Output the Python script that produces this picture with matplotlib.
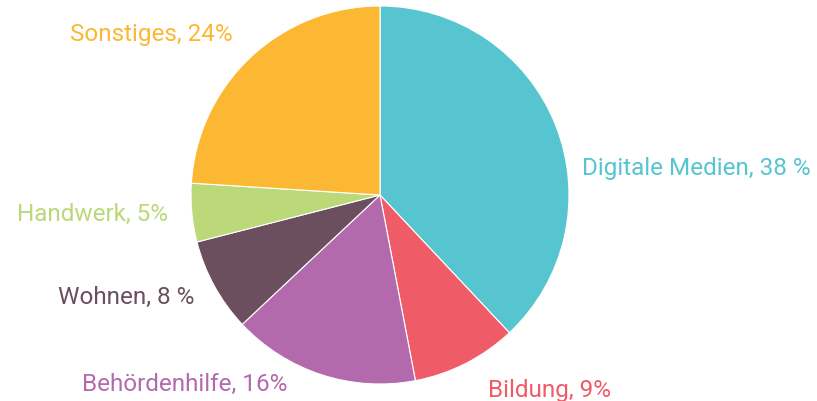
import matplotlib
matplotlib.use("Agg")
import matplotlib.pyplot as plt

# Share of topics
categories = ["Digitale Medien", "Bildung", "Behördenhilfe", "Wohnen", "Handwerk", "Sonstiges"]
shares = [38, 9, 16, 8, 5, 24]
label_texts = ["Digitale Medien, 38 %", "Bildung, 9%", "Behördenhilfe, 16%",
               "Wohnen, 8 %", "Handwerk, 5%", "Sonstiges, 24%"]
colors = ["#56C5D0", "#F05B68", "#B26AAD", "#6B4F5E", "#BBD979", "#FDB833"]

# label anchors in units of pie radius, with horizontal alignment
label_xy = [(1.07, 0.145), (0.57, -1.03), (-0.49, -0.995), (-0.98, -0.535), (-1.12, -0.1), (-0.78, 0.855)]
label_ha = ["left", "left", "right", "right", "right", "right"]

plt.rcParams["font.family"] = ["Roboto", "DejaVu Sans"]

W, H = 817, 402
cx, cy, r = 380, 196, 189
fig = plt.figure(figsize=(W / 100, H / 100), dpi=100)
ax = fig.add_axes([(cx - r) / W, (H - cy - r) / H, 2 * r / W, 2 * r / H])

ax.pie(shares, colors=colors, startangle=90, counterclock=False, radius=1,
       wedgeprops=dict(linewidth=0.8, edgecolor="white"))
for txt, (x, y), ha, c in zip(label_texts, label_xy, label_ha, colors):
    ax.text(x, y, txt, ha=ha, va="center", color=c, fontsize=17.5, clip_on=False)

ax.set_xlim(-1, 1)
ax.set_ylim(-1, 1)
ax.set_aspect("equal")
ax.axis("off")

fig.savefig("out.png", dpi=100)
